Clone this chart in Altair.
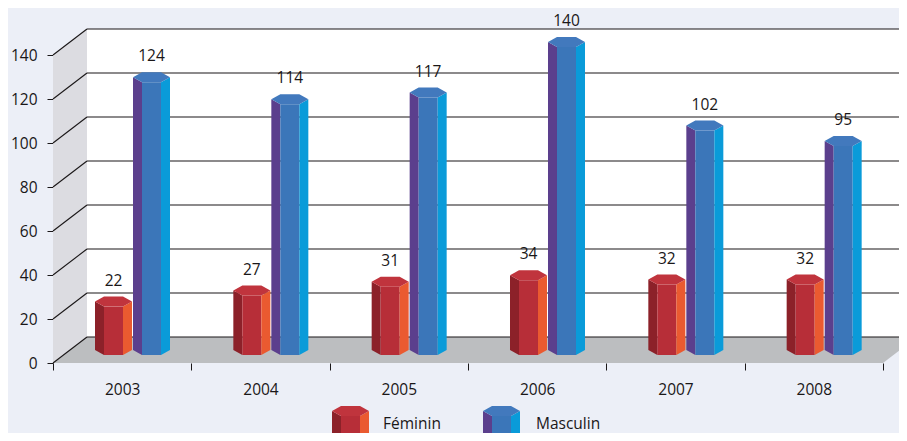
import json
import altair as alt
import pandas as pd

# ---------------- data ----------------
years = ["2003", "2004", "2005", "2006", "2007", "2008"]
feminin = [22, 27, 31, 34, 32, 32]
masculin = [124, 114, 117, 140, 102, 95]
series = ["Féminin", "Masculin"]
y_ticks = [0, 20, 40, 60, 80, 100, 120, 140]

# ---------------- layout (pixels) ----------------
W_PX, H_PX = 891, 425
PLOT_L, PLOT_H = 45, 355
PX = 138.333          # px per category
PY = 2.2              # px per value unit
DEPTH_X, DEPTH_Y = 34, 26
BASE_PX, CAP_PX = 8, 5
FONT = "Open Sans"
FSIZE = 15.5
INK = "#1A1718"

XMAX = (W_PX - PLOT_L) / PX
YMAX = PLOT_H / PY
DX, DY = DEPTH_X / PX, DEPTH_Y / PY
BASE, A = BASE_PX / PY, CAP_PX / PY
TOP = y_ticks[-1]
NCAT = len(years)

palette = {
    "Féminin": {"left": "#8C2129", "front": "#B72E38", "right": "#EA5A30", "cap": "#C0343D"},
    "Masculin": {"left": "#5B3F8D", "front": "#3B76B9", "right": "#0A9BD9", "cap": "#4279BD"},
}
face_px = {"Féminin": [42, 51, 70, 79], "Masculin": [80, 89, 108, 117]}

xscale = alt.Scale(domain=[0, XMAX], nice=False, zero=False)
yscale = alt.Scale(domain=[0, YMAX], nice=False, zero=False)

half_vals = [i / 2 for i in range(2 * NCAT + 1)]
label_expr = "datum.value % 1 === 0 ? '' : " + json.dumps(years) + "[floor(datum.value)]"
x_axis = alt.Axis(
    values=half_vals, title=None, grid=False, domain=False,
    tickSize=7, tickColor=INK, tickWidth=1,
    tickOpacity={"condition": {"test": "datum.value % 1 !== 0", "value": 0}, "value": 1},
    labelExpr=label_expr, labelFont=FONT, labelFontSize=FSIZE, labelColor=INK,
    labelPadding=12, labelOverlap=False, labelFlush=False,
)
y_axis = alt.Axis(
    values=y_ticks, title=None, grid=False, domain=False,
    tickSize=6, tickColor=INK, tickWidth=1,
    labelFont=FONT, labelFontSize=FSIZE, labelColor=INK, labelPadding=10,
)


def X(f="x"):
    return alt.X(f"{f}:Q", scale=xscale, axis=x_axis)


def Y(f="y"):
    return alt.Y(f"{f}:Q", scale=yscale, axis=y_axis, stack=None)


def prism(rows, key, xs, b, t, cols):
    x0, x1, x2, x3 = xs
    faces = [
        ("left", [(x0, b + A, t + A), (x1, b, t)]),
        ("front", [(x1, b, t), (x2, b, t)]),
        ("right", [(x2, b, t), (x3, b + A, t + A)]),
        ("cap", [(x0, t + A, t + A), (x1, t, t + 2 * A), (x2, t, t + 2 * A), (x3, t + A, t + A)]),
    ]
    for i, (f, pts) in enumerate(faces):
        for (x, y, y2) in pts:
            rows.append(dict(id=f"{key}-{i}-{f}", x=x, y=y, y2=y2, color=cols[f]))


# ---------------- bars ----------------
bar_rows, lab_rows = [], []
for ci, yr in enumerate(years):
    for s, vals in zip(series, [feminin, masculin]):
        v = vals[ci]
        xs = [ci + p / PX for p in face_px[s]]
        prism(bar_rows, f"{yr}-{s}", xs, BASE, BASE + v, palette[s])
        lab_rows.append(dict(x=(xs[0] + xs[3]) / 2, y=BASE + v, label=str(v)))
bars_df = pd.DataFrame(bar_rows)
labs_df = pd.DataFrame(lab_rows)

# ---------------- legend ----------------
leg_rows, legtxt_rows = [], []
leg_icon_px = [279, 430]
leg_text_px = [330, 483]
leg_top = (PLOT_H - (416 - 8)) / PY
leg_base = (PLOT_H - (450 - 8)) / PY
leg_text_y = (PLOT_H - (424 - 8)) / PY
for s, ipx, tpx in zip(series, leg_icon_px, leg_text_px):
    xs = [(ipx + (p - face_px[s][0])) / PX for p in face_px[s]]
    prism(leg_rows, f"leg-{s}", xs, leg_base, leg_top, palette[s])
    legtxt_rows.append(dict(x=tpx / PX, y=leg_text_y, label=s))
leg_df = pd.DataFrame(leg_rows)
legtxt_df = pd.DataFrame(legtxt_rows)

# ---------------- frame ----------------
side_df = pd.DataFrame({"x": [0, DX], "y": [0, DY], "y2": [TOP, TOP + DY]})
back_df = pd.DataFrame({"x": [DX], "x2": [XMAX + 1], "y": [DY], "y2": [TOP + DY]})
floor_df = pd.DataFrame({"y": [0, DY], "x": [0, DX], "x2": [NCAT, NCAT + DX]})
grid_df = pd.DataFrame({"v": y_ticks})

side = alt.Chart(side_df).mark_area(orient="vertical", color="#DCDCE1").encode(
    x=X(), y=Y(), y2="y2:Q")
back = alt.Chart(back_df).mark_rect(color="#FFFFFF").encode(
    x=X(), x2="x2:Q", y=Y(), y2="y2:Q")
floor = alt.Chart(floor_df).mark_area(orient="horizontal", color="#BCBEC0").encode(
    y=Y(), x=X(), x2="x2:Q")
grid_back = alt.Chart(grid_df).transform_calculate(
    x=f"{DX}", x2=f"{XMAX + 1}", y=f"datum.v + {DY}"
).mark_rule(color=INK, strokeWidth=1.1).encode(x=X(), x2="x2:Q", y=Y())
grid_diag = alt.Chart(grid_df).transform_calculate(
    x="0", x2=f"{DX}", y="datum.v", y2=f"datum.v + {DY}"
).mark_rule(color=INK, strokeWidth=1.1).encode(x=X(), x2="x2:Q", y=Y(), y2="y2:Q")

bars = alt.Chart(bars_df).mark_area(orient="vertical").encode(
    x=X(), y=Y(), y2="y2:Q", detail="id:N", color=alt.Color("color:N", scale=None))
values = alt.Chart(labs_df).mark_text(
    font=FONT, fontSize=FSIZE, color=INK, dy=-26, baseline="middle", align="center"
).encode(x=X(), y=Y(), text="label:N")

legend_icons = alt.Chart(leg_df).mark_area(orient="vertical").encode(
    x=X(), y=Y(), y2="y2:Q", detail="id:N", color=alt.Color("color:N", scale=None))
legend_text = alt.Chart(legtxt_df).mark_text(
    font=FONT, fontSize=FSIZE, color=INK, align="left", baseline="middle"
).encode(x=X(), y=Y(), text="label:N")

chart = alt.layer(
    side, back, floor, grid_back, grid_diag, bars, values, legend_icons, legend_text
).properties(
    width=W_PX - PLOT_L, height=PLOT_H,
    autosize=alt.AutoSizeParams(type="none"),
    padding={"left": PLOT_L, "top": 0, "right": 0, "bottom": H_PX - PLOT_H},
).configure(background="#ECEFF7").configure_view(stroke=None)

chart.save("out.html", embed_options={"renderer": "svg", "actions": False})
